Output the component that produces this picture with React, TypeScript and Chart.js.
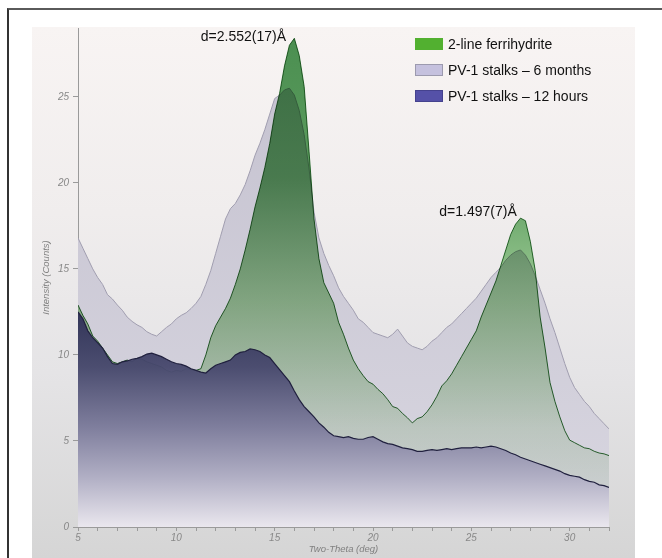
import React, { useEffect, useRef } from 'react';
import { Chart, registerables } from 'chart.js';

Chart.register(...registerables);

// Two-Theta positions (deg)
const twoTheta = [
  5, 5.25, 5.5, 5.75, 6, 6.25, 6.5, 6.75, 7, 7.25, 7.5, 7.75, 8, 8.25, 8.5, 8.75,
  9, 9.25, 9.5, 9.75, 10, 10.25, 10.5, 10.75, 11, 11.25, 11.5, 11.75, 12, 12.25, 12.5, 12.75,
  13, 13.25, 13.5, 13.75, 14, 14.25, 14.5, 14.75, 15, 15.25, 15.5, 15.75, 16, 16.25, 16.5, 16.75,
  17, 17.25, 17.5, 17.75, 18, 18.25, 18.5, 18.75, 19, 19.25, 19.5, 19.75, 20, 20.25, 20.5, 20.75,
  21, 21.25, 21.5, 21.75, 22, 22.25, 22.5, 22.75, 23, 23.25, 23.5, 23.75, 24, 24.25, 24.5, 24.75,
  25, 25.25, 25.5, 25.75, 26, 26.25, 26.5, 26.75, 27, 27.25, 27.5, 27.75, 28, 28.25, 28.5, 28.75,
  29, 29.25, 29.5, 29.75, 30, 30.25, 30.5, 30.75, 31, 31.25, 31.5, 31.75, 32,
];

// Intensity (Counts)
const ferrihydrite = [
  12.9, 12.3, 11.8, 11.1, 10.8, 10.4, 10.0, 9.6, 9.5, 9.6, 9.7, 9.6, 9.8, 9.75, 9.6, 9.5,
  9.4, 9.3, 9.1, 9.0, 9.1, 9.05, 9.2, 9.15, 9.1, 9.2, 10.0, 11.0, 11.7, 12.2, 12.7, 13.3,
  14.1, 15.0, 16.1, 17.3, 18.6, 19.7, 20.9, 22.3, 24.0, 25.2, 26.8, 28.0, 28.4, 27.4, 25.6, 21.8,
  17.9, 15.6, 14.2, 13.6, 13.0, 11.9, 11.2, 10.4, 9.7, 9.2, 8.8, 8.45, 8.3, 8.0, 7.75, 7.4,
  7.0, 6.9, 6.6, 6.35, 6.05, 6.3, 6.4, 6.7, 7.1, 7.6, 8.2, 8.5, 8.9, 9.4, 9.9, 10.4,
  10.9, 11.4, 12.2, 12.9, 13.6, 14.3, 15.2, 16.1, 17.0, 17.6, 17.95, 17.8, 16.6, 14.9, 12.2, 10.4,
  8.4, 7.3, 6.4, 5.6, 5.05, 4.9, 4.75, 4.6, 4.55, 4.4, 4.3, 4.25, 4.15,
];

const stalks6Months = [
  16.8, 16.2, 15.6, 15.0, 14.5, 14.1, 13.5, 13.25, 12.9, 12.6, 12.2, 11.95, 11.75, 11.6, 11.35, 11.2,
  11.1, 11.35, 11.6, 11.8, 12.1, 12.3, 12.45, 12.7, 13.0, 13.4, 14.1, 14.9, 15.9, 16.9, 17.9, 18.5,
  18.8, 19.3, 19.9, 20.7, 21.6, 22.3, 23.1, 24.0, 24.9, 25.1, 25.4, 25.5, 25.1, 24.2, 22.8, 20.8,
  18.3, 16.8, 15.9, 15.2, 14.6, 13.9, 13.4, 13.0, 12.6, 12.1, 11.9, 11.6, 11.3, 11.2, 11.1, 11.0,
  11.2, 11.5, 11.1, 10.7, 10.5, 10.4, 10.3, 10.5, 10.8, 11.0, 11.3, 11.6, 11.8, 12.1, 12.4, 12.7,
  13.0, 13.3, 13.7, 14.1, 14.5, 14.8, 15.1, 15.5, 15.8, 16.0, 16.1, 15.8, 15.3, 14.6, 13.8, 13.0,
  12.1, 11.3, 10.4, 9.5, 8.7, 8.1, 7.7, 7.3, 7.0, 6.6, 6.3, 6.0, 5.7,
];

const stalks12Hours = [
  12.5, 12.1, 11.4, 11.0, 10.7, 10.4, 9.9, 9.5, 9.45, 9.6, 9.65, 9.75, 9.8, 9.9, 10.05, 10.1,
  10.0, 9.9, 9.75, 9.6, 9.5, 9.45, 9.35, 9.2, 9.1, 9.0, 8.95, 9.2, 9.4, 9.5, 9.6, 9.7,
  10.0, 10.15, 10.2, 10.35, 10.3, 10.2, 10.0, 9.85, 9.5, 9.15, 8.8, 8.45, 7.9, 7.4, 7.0, 6.7,
  6.4, 6.05, 5.8, 5.5, 5.3, 5.25, 5.2, 5.25, 5.15, 5.1, 5.1, 5.2, 5.25, 5.1, 4.95, 4.85,
  4.8, 4.7, 4.6, 4.55, 4.5, 4.4, 4.4, 4.45, 4.5, 4.45, 4.5, 4.55, 4.5, 4.55, 4.6, 4.6,
  4.6, 4.65, 4.6, 4.65, 4.7, 4.65, 4.55, 4.45, 4.3, 4.2, 4.05, 3.95, 3.85, 3.75, 3.65, 3.55,
  3.45, 3.35, 3.25, 3.1, 3.0, 2.95, 2.9, 2.75, 2.65, 2.6, 2.45, 2.4, 2.3,
];

const seriesLabels = ['2-line ferrihydrite', 'PV-1 stalks \u2013 6 months', 'PV-1 stalks \u2013 12 hours'];
const legendFill = ['#52b030', '#c5c1de', '#5551a8'];
const legendBorder = ['#52b030', '#9c9aae', '#45428e'];

const xTickLabelValues = [5, 10, 15, 20, 25, 30];
const yTickValues = [0, 5, 10, 15, 20, 25];

const peakLabels = ['d=2.552(17)\u00c5', 'd=1.497(7)\u00c5'];
const peakLabelX = [13.41, 25.34];
const peakLabelY = [28.45, 18.3];

const FONT = '"Liberation Sans", Arial, Helvetica, sans-serif';

export default function App() {
  const ref = useRef<HTMLCanvasElement>(null);

  useEffect(() => {
    const canvas = ref.current;
    if (!canvas) return;

    const grad = (stops: [number, string][]) => (context: any) => {
      const chart = context.chart;
      const area = chart.chartArea;
      if (!area) return stops[0][1];
      const g = chart.ctx.createLinearGradient(0, area.top, 0, area.bottom);
      stops.forEach(([o, c]) => g.addColorStop(o, c));
      return g;
    };

    const toPts = (vals: number[]) => twoTheta.map((x, i) => ({ x, y: vals[i] }));

    const blendPlugin = {
      id: 'blendGreen',
      afterDatasetDraw(chart: any, args: any) {
        if (args.index === 1) chart.ctx.globalCompositeOperation = 'multiply';
        if (args.index === 0) chart.ctx.globalCompositeOperation = 'source-over';
      },
    };

    const labelPlugin = {
      id: 'peakLabels',
      afterDatasetsDraw(chart: any) {
        const { ctx, scales } = chart;
        ctx.save();
        ctx.globalCompositeOperation = 'source-over';
        ctx.font = `14px ${FONT}`;
        ctx.fillStyle = '#111';
        ctx.textAlign = 'center';
        ctx.textBaseline = 'middle';
        peakLabels.forEach((t, i) => {
          ctx.fillText(t, scales.x.getPixelForValue(peakLabelX[i]), scales.y.getPixelForValue(peakLabelY[i]));
        });
        ctx.restore();
      },
    };

    const chart = new Chart(canvas, {
      type: 'line',
      data: {
        datasets: [
          {
            label: seriesLabels[0],
            data: toPts(ferrihydrite),
            order: 2,
            fill: 'origin',
            borderColor: 'rgb(45,112,50)',
            borderWidth: 1,
            pointRadius: 0,
            tension: 0,
            backgroundColor: grad([
              [0, 'rgb(74,142,80)'],
              [0.3, 'rgb(92,156,94)'],
              [0.55, 'rgb(160,205,152)'],
              [0.8, 'rgb(225,240,220)'],
              [1, 'rgb(250,252,248)'],
            ]),
          },
          {
            label: seriesLabels[1],
            data: toPts(stalks6Months),
            order: 3,
            fill: 'origin',
            borderColor: 'rgb(160,157,175)',
            borderWidth: 1,
            pointRadius: 0,
            tension: 0,
            backgroundColor: grad([
              [0, 'rgb(196,193,207)'],
              [1, 'rgb(216,214,224)'],
            ]),
          },
          {
            label: seriesLabels[2],
            data: toPts(stalks12Hours),
            order: 1,
            fill: 'origin',
            borderColor: 'rgb(32,32,62)',
            borderWidth: 1.2,
            pointRadius: 0,
            tension: 0,
            backgroundColor: grad([
              [0, 'rgba(36,38,74,0.96)'],
              [0.55, 'rgba(42,44,82,0.96)'],
              [0.68, 'rgba(72,73,110,0.96)'],
              [0.8, 'rgba(125,124,156,0.97)'],
              [0.9, 'rgba(176,174,196,0.98)'],
              [1, 'rgba(234,231,238,1)'],
            ]),
          },
        ],
      },
      options: {
        animation: false,
        responsive: false,
        devicePixelRatio: 1,
        layout: { padding: { left: 0, top: 28, right: 53, bottom: 0 } },
        plugins: {
          legend: { display: false },
          tooltip: { enabled: false },
        },
        scales: {
          x: {
            type: 'linear',
            min: 5,
            max: 32,
            afterFit(scale: any) {
              scale.height = 31;
            },
            grid: {
              display: true,
              drawOnChartArea: false,
              drawTicks: true,
              tickLength: 4,
              color: '#9a9a9a',
            },
            border: { display: true, color: '#9a9a9a', width: 1 },
            ticks: {
              stepSize: 1,
              autoSkip: false,
              maxRotation: 0,
              padding: 1,
              color: '#888',
              font: { family: FONT, size: 10, style: 'italic' },
              callback: (v: any) => (xTickLabelValues.includes(Number(v)) ? String(v) : ''),
            },
            title: {
              display: true,
              text: 'Two-Theta (deg)',
              color: '#808080',
              font: { family: FONT, size: 9.5, style: 'italic' },
              padding: { top: 0, bottom: 3 },
            },
          },
          y: {
            type: 'linear',
            min: 0,
            max: 29,
            afterFit(scale: any) {
              scale.width = 78;
            },
            afterBuildTicks(scale: any) {
              scale.ticks = yTickValues.map((v) => ({ value: v }));
            },
            grid: {
              display: true,
              drawOnChartArea: false,
              drawTicks: true,
              tickLength: 5,
              color: '#9a9a9a',
            },
            border: { display: true, color: '#9a9a9a', width: 1 },
            ticks: {
              padding: 4,
              color: '#888',
              font: { family: FONT, size: 10, style: 'italic' },
            },
            title: {
              display: true,
              text: 'Intensity (Counts)',
              color: '#808080',
              font: { family: FONT, size: 9.5, style: 'italic' },
              padding: { top: 41, bottom: 0 },
            },
          },
        },
      },
      plugins: [blendPlugin, labelPlugin],
    } as any);

    return () => chart.destroy();
  }, []);

  return (
    <div style={{ position: 'absolute', left: 0, top: 0, width: 662, height: 558, overflow: 'hidden', background: '#fff' }}>
      <div
        style={{
          position: 'absolute',
          left: 7,
          top: 8,
          width: 700,
          height: 600,
          borderTop: '2px solid #5a5a5a',
          borderLeft: '2px solid #333',
        }}
      />
      <div
        style={{
          position: 'absolute',
          left: 32,
          top: 27,
          width: 603,
          height: 531,
          background: 'linear-gradient(to bottom, #f8f4f3 0%, #f0eded 35%, #e5e4e6 65%, #d5d5d5 100%)',
        }}
      />
      <canvas ref={ref} width={662} height={558} style={{ position: 'absolute', left: 0, top: 0, width: 662, height: 558 }} />
      <div style={{ position: 'absolute', left: 415, top: 38, font: `14px ${FONT}`, color: '#111' }}>
        {seriesLabels.map((l, i) => (
          <div key={i} style={{ display: 'flex', alignItems: 'center', height: 12, marginBottom: 14, whiteSpace: 'nowrap' }}>
            <span
              style={{
                display: 'inline-block',
                width: 28,
                height: 12,
                boxSizing: 'border-box',
                background: legendFill[i],
                border: `1px solid ${legendBorder[i]}`,
              }}
            />
            <span style={{ marginLeft: 5, lineHeight: '12px' }}>{l}</span>
          </div>
        ))}
      </div>
    </div>
  );
}
